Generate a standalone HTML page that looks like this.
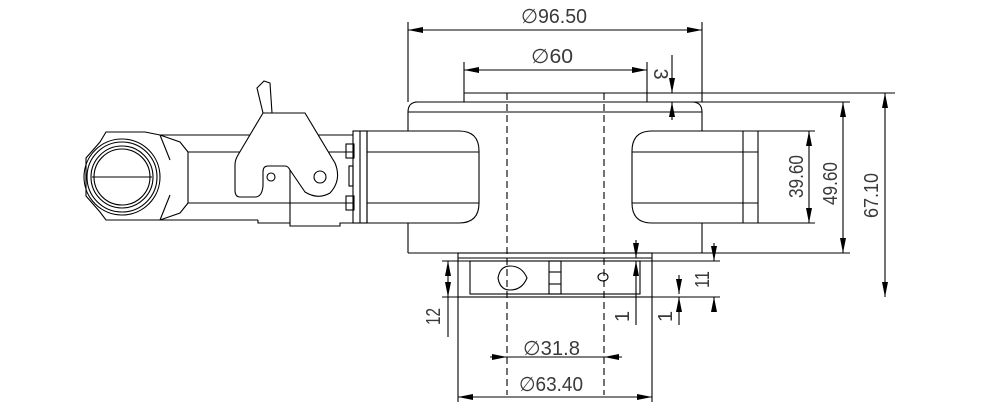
<!DOCTYPE html>
<html><head><style>
html,body{margin:0;padding:0;background:#fff;}
svg{display:block;}
text{font-family:"Liberation Sans",sans-serif;font-size:20px;fill:#3a3a3a;}
</style></head><body>
<svg width="1000" height="407" viewBox="0 0 1000 407" xmlns="http://www.w3.org/2000/svg">
<defs>
<marker id="a" viewBox="0 0 15 6" refX="15" refY="3" markerWidth="15" markerHeight="6" markerUnits="userSpaceOnUse" orient="auto-start-reverse"><path d="M0,0L15,3L0,6z" fill="#000"/></marker>
</defs>
<g fill="none" stroke="#000" stroke-width="1.1">
<line x1="408" y1="22" x2="408" y2="102"/><line x1="702" y1="22" x2="702" y2="102"/>
<line x1="408" y1="30" x2="702" y2="30" marker-start="url(#a)" marker-end="url(#a)"/>
<line x1="464" y1="62" x2="464" y2="93"/><line x1="647" y1="62" x2="647" y2="102"/>
<line x1="464" y1="70" x2="647" y2="70" marker-start="url(#a)" marker-end="url(#a)"/>
<line x1="672" y1="55" x2="672" y2="93" marker-end="url(#a)"/>
<line x1="672" y1="120" x2="672" y2="102" marker-end="url(#a)"/>
<line x1="464" y1="93" x2="895" y2="93"/>
<line x1="464" y1="93" x2="464" y2="102"/>
<path d="M415,102 H850"/>
<path d="M408,112 Q408,102 418,102 H692 Q702,102 702,112"/>
<line x1="408" y1="112" x2="702" y2="112"/>
<line x1="408" y1="112" x2="408" y2="131"/><line x1="702" y1="112" x2="702" y2="131"/>
<line x1="408" y1="223" x2="408" y2="253"/><line x1="702" y1="223" x2="702" y2="253"/>
<line x1="408" y1="253" x2="850" y2="253"/>
<path d="M367,131 H459 Q479,131 479,151 V203 Q479,223 459,223 H367 Z"/>
<line x1="367" y1="152" x2="479" y2="152"/><line x1="367" y1="203" x2="479" y2="203"/>
<path d="M758,131 H652 Q632,131 632,151 V203 Q632,223 652,223 H758 Z"/>
<line x1="632" y1="152" x2="758" y2="152"/><line x1="632" y1="203" x2="758" y2="203"/>
<line x1="743" y1="131" x2="743" y2="223"/>
<line x1="758" y1="131" x2="815" y2="131"/><line x1="758" y1="223" x2="815" y2="223"/>
<line x1="809" y1="131" x2="809" y2="223" marker-start="url(#a)" marker-end="url(#a)"/>
<line x1="843" y1="102" x2="843" y2="253" marker-start="url(#a)" marker-end="url(#a)"/>
<line x1="885" y1="93" x2="885" y2="297" marker-start="url(#a)" marker-end="url(#a)"/>
<line x1="507" y1="93" x2="507" y2="395" stroke-dasharray="7,4"/>
<line x1="604" y1="93" x2="604" y2="395" stroke-dasharray="7,4"/>
<rect x="353" y="131" width="14" height="92"/>
<line x1="360" y1="131" x2="360" y2="223"/>
<rect x="346" y="144" width="8" height="14"/><rect x="346" y="196" width="8" height="14"/>
<rect x="349" y="166" width="4" height="20"/>
<line x1="160" y1="135" x2="353" y2="135"/><line x1="160" y1="220" x2="258" y2="220"/>
<path d="M258,220 V223 H290 V226 H340 V223 H353"/>
<line x1="188" y1="152" x2="353" y2="152"/><line x1="188" y1="203" x2="353" y2="203"/>
<line x1="290" y1="168" x2="290" y2="223"/>
<path d="M106,132 H145 L160,135 L180,142 L188,152 V203 L180,213 L160,220 H106 L100,212 L86,196 V158 L100,142 Z"/>
<line x1="160" y1="135" x2="170" y2="160"/><line x1="160" y1="220" x2="170" y2="195"/>
<circle cx="122" cy="177" r="38"/><circle cx="122" cy="177" r="35"/>
<circle cx="122" cy="177" r="31"/><circle cx="122" cy="177" r="28"/>
<line x1="92" y1="177" x2="152" y2="177"/>
<path d="M263,113 H305 L335,163 Q342,180 330,193 Q318,200 305,192 L290,170 Q288,166 285,166 H268 Q263,166 263,172 V186 Q262,197 255,197 H240 Q235,197 235,190 V165 Q235,160 238,155 Z" fill="#fff"/>
<circle cx="320" cy="177" r="6"/><circle cx="271" cy="177" r="4"/>
<path d="M263,113 L257,88 L264,81 L270,83 L272,113"/>
<rect x="458" y="253" width="194" height="44"/>
<line x1="458" y1="258" x2="652" y2="258"/>
<rect x="470" y="261" width="170" height="33"/>
<path d="M510,266 Q522,266 527,278 Q522,290 510,290 Q500,290 498,278 Q500,266 510,266 Z"/>
<ellipse cx="603" cy="277" rx="5" ry="4"/>
<rect x="549" y="261" width="12" height="33"/>
<line x1="549" y1="272" x2="561" y2="272"/><line x1="549" y1="284" x2="561" y2="284"/>
<line x1="442" y1="261" x2="720" y2="261"/><line x1="442" y1="297" x2="720" y2="297"/>
<line x1="448" y1="261" x2="448" y2="297" marker-start="url(#a)" marker-end="url(#a)"/>
<line x1="448" y1="297" x2="448" y2="337"/>
<line x1="458" y1="297" x2="458" y2="402"/><line x1="652" y1="297" x2="652" y2="402"/>
<line x1="636" y1="240" x2="636" y2="258" marker-end="url(#a)"/>
<line x1="636" y1="325" x2="636" y2="261" marker-end="url(#a)"/>
<line x1="679" y1="275" x2="679" y2="294" marker-end="url(#a)"/>
<line x1="679" y1="325" x2="679" y2="297" marker-end="url(#a)"/>
<line x1="714" y1="243" x2="714" y2="261" marker-end="url(#a)"/>
<line x1="714" y1="310" x2="714" y2="297" marker-end="url(#a)"/>
<line x1="490" y1="357" x2="507" y2="357" marker-end="url(#a)"/>
<line x1="507" y1="357" x2="604" y2="357"/>
<line x1="622" y1="357" x2="604" y2="357" marker-end="url(#a)"/>
<line x1="458" y1="397" x2="652" y2="397" marker-start="url(#a)" marker-end="url(#a)"/>
</g>
<g>
<text x="521" y="23" textLength="66" lengthAdjust="spacingAndGlyphs">∅96.50</text>
<text x="531" y="63" textLength="42" lengthAdjust="spacingAndGlyphs">∅60</text>
<text transform="translate(654,74) rotate(90)" font-size="14" text-anchor="middle">3</text>
<text transform="translate(803,198) rotate(-90)" textLength="43" lengthAdjust="spacingAndGlyphs">39.60</text>
<text transform="translate(837,205) rotate(-90)" textLength="43" lengthAdjust="spacingAndGlyphs">49.60</text>
<text transform="translate(878,218) rotate(-90)" textLength="45" lengthAdjust="spacingAndGlyphs">67.10</text>
<text transform="translate(440,325) rotate(-90)" textLength="17" lengthAdjust="spacingAndGlyphs">12</text>
<text transform="translate(629,322) rotate(-90)">1</text>
<text transform="translate(672,322) rotate(-90)">1</text>
<text transform="translate(709,288) rotate(-90)" textLength="17" lengthAdjust="spacingAndGlyphs">11</text>
<text x="523" y="355" textLength="57" lengthAdjust="spacingAndGlyphs">∅31.8</text>
<text x="519" y="391" textLength="64" lengthAdjust="spacingAndGlyphs">∅63.40</text>
</g>
</svg>
</body></html>
